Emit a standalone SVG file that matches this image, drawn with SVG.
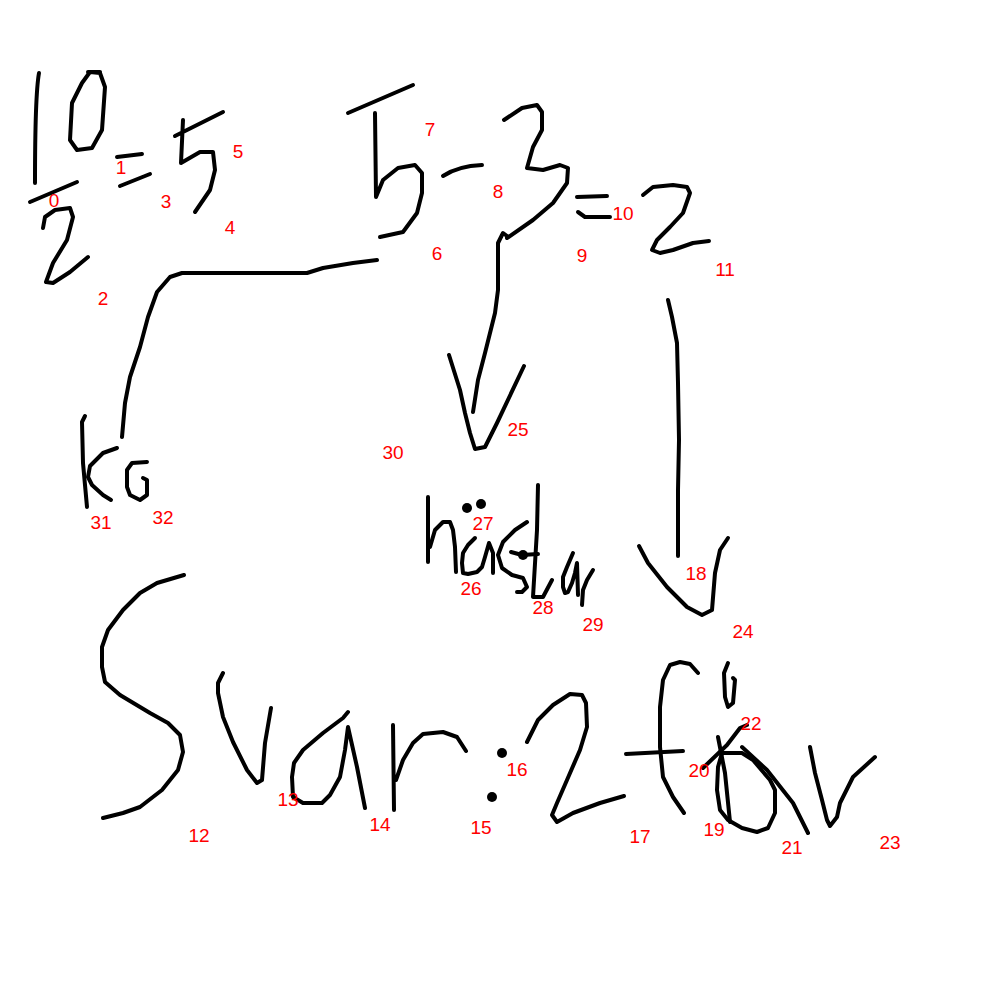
<svg xmlns="http://www.w3.org/2000/svg" width="1000" height="1000" viewBox="0 0 1000 1000">
<style>
.s{fill:none;stroke:#000;stroke-width:4;stroke-linecap:round;stroke-linejoin:round}
.d{fill:#000}
.l{fill:#ff0000;font-family:"Liberation Sans",Arial,sans-serif;font-size:19px;text-anchor:middle}
</style>
<rect width="1000" height="1000" fill="#fff"/>
<g id="fraction">
<path class="s" d="M39,73 Q35,95 35,183"/>
<path class="s" d="M90,72 L100,73 L105,87 L102,130 L92,148 L77,150 L70,140 L72,103 L82,83 Z"/>
<path class="s" d="M88,72 L100,72" stroke-width="6"/>
<path class="s" d="M30,202 L77,182"/>
<path class="s" d="M43,228 L45,217 L55,210 L70,208 L73,217 L67,240 L53,263 L46,282 L53,283 L70,272 L88,257"/>
<path class="s" d="M117,157 L142,154 M120,186 L150,174"/>
<path class="s" d="M175,136 L223,112 M183,120 L181,163 L200,152 L213,152 L215,170 L210,190 L195,212"/>
</g>
<g id="subtraction">
<path class="s" d="M348,113 L413,85 M375,113 L376,197 L383,180 L398,168 L415,165 L422,173 L422,193 L417,213 L403,232 L380,237"/>
<path class="s" d="M443,176 Q458,166 482,165"/>
<path class="s" d="M504,120 L522,108 L537,105 L542,112 L542,130 L533,147 L527,168 L543,170 L560,165 L568,168 L567,183 L553,203 L533,220 L507,238"/>
<path class="s" d="M577,197 L607,196 M578,212 L585,217 L610,217"/>
<path class="s" d="M643,195 L653,187 L673,185 L687,187 L690,193 L683,213 L670,227 L657,240 L652,250 L660,253 L673,250 L693,243 L709,241"/>
</g>
<g id="kg">
<path class="s" d="M85,416 L82,422 L83,463 L87,507"/>
<path class="s" d="M117,448 L103,453 L90,466 L88,477 L92,485 L103,495 L111,500"/>
<path class="s" d="M147,462 L132,463 L127,470 L127,487 L130,495 L140,500 L147,495 L147,480 L143,478"/>
</g>
<g id="hasta">
<path class="s" d="M428,497 L428,562"/>
<path class="s" d="M430,547 L435,530 L443,522 L450,522 L453,530 L455,547 L456,572"/>
<path class="s" d="M475,538 L468,545 L463,553 L462,563 L463,573 L468,574 L477,572 L482,567 L485,557 L487,550 L489,543 L493,553 L493,573"/>
<circle class="d" cx="467" cy="508" r="5"/>
<circle class="d" cx="481" cy="504" r="5"/>
<path class="s" d="M527,522 L515,530 L503,542 L498,555 L502,568 L512,575 L523,578 L527,587 L522,592 L517,592"/>
<path class="s" d="M538,485 L537,530 L533,597 L543,597 L552,580"/>
<path class="s" d="M511,552 L522,555 L538,554"/>
<circle class="d" cx="523" cy="555" r="5"/>
<path class="s" d="M573,553 L570,560 L567,567 L563,577 L563,587 L565,593 L568,592 L572,583 L575,573 L577,563 L578,595"/>
<path class="s" d="M593,570 L587,580 L583,590 L582,605"/>
</g>
<g id="svar">
<path class="s" d="M184,575 L157,583 L140,593 L123,610 L108,630 L102,647 L102,667 L105,682 L120,695 L150,713 L168,723 L180,735 L183,752 L178,770 L162,790 L140,807 L123,813 L103,818"/>
<path class="s" d="M223,673 L218,683 L218,693 L223,717 L233,742 L247,770 L257,783 L262,780 L265,743 L271,708"/>
<path class="s" d="M348,712 L343,718 L323,733 L303,750 L294,763 L292,777 L293,797 L303,803 L322,803 L330,795 L340,777 L345,750 L348,727 L357,767 L365,808"/>
<path class="s" d="M393,725 L394,810 M396,780 L403,760 L413,743 L423,734 L443,732 L457,737 L466,751"/>
<circle class="d" cx="502" cy="753" r="5"/>
<circle class="d" cx="492" cy="797" r="5"/>
<path class="s" d="M527,742 L538,720 L553,705 L570,694 L582,695 L586,703 L587,727 L580,750 L567,780 L557,803 L552,815 L557,822 L573,813 L600,803 L624,796"/>
<path class="s" d="M698,673 L690,664 L680,662 L670,665 L663,680 L660,707 L660,747 L663,777 L673,797 L684,813"/>
<path class="s" d="M626,754 L683,751"/>
<path class="s" d="M728,663 L724,673 L725,697 L728,707 L733,703 L735,680 L733,678"/>
<path class="s" d="M703,768 L727,745 L740,728 L747,725"/>
<path class="s" d="M718,737 L725,773 L730,822"/>
<path class="s" d="M722,753 L742,753 L753,760 L770,780 L775,790 L775,813 L768,828 L757,832 L742,828 L728,820 L720,810 L717,790 L718,767 L722,753"/>
<path class="s" d="M742,747 L767,770 L793,803 L808,833"/>
<path class="s" d="M810,747 L815,773 L822,800 L827,820 L830,826 L837,817 L840,803 L853,777 L875,757"/>
</g>
<g id="connectors">
<path class="s" d="M377,260 L353,263 L323,268 L307,273 L182,273 L170,277 L157,292 L148,317 L140,347 L130,377 L125,403 L122,437"/>
<path class="s" d="M507,236 L503,233 L498,243 L498,290 L495,313 L485,353 L478,380 L473,412"/>
<path class="s" d="M449,355 L460,390 L465,413 L470,433 L475,449 L485,447 L497,423 L524,366"/>
<path class="s" d="M668,300 L672,317 L677,343 L678,383 L679,440 L678,490 L678,556"/>
<path class="s" d="M639,546 L648,563 L667,587 L687,607 L702,615 L712,610 L715,573 L720,550 L728,538"/>
</g>
<g id="labels">
<text class="l" x="54" y="207">0</text>
<text class="l" x="121" y="174">1</text>
<text class="l" x="103" y="305">2</text>
<text class="l" x="166" y="208">3</text>
<text class="l" x="230" y="234">4</text>
<text class="l" x="238" y="158">5</text>
<text class="l" x="437" y="260">6</text>
<text class="l" x="430" y="136">7</text>
<text class="l" x="498" y="198">8</text>
<text class="l" x="582" y="262">9</text>
<text class="l" x="623" y="220">10</text>
<text class="l" x="725" y="276">11</text>
<text class="l" x="199" y="842">12</text>
<text class="l" x="288" y="806">13</text>
<text class="l" x="380" y="831">14</text>
<text class="l" x="481" y="834">15</text>
<text class="l" x="517" y="776">16</text>
<text class="l" x="640" y="843">17</text>
<text class="l" x="696" y="580">18</text>
<text class="l" x="714" y="836">19</text>
<text class="l" x="699" y="777">20</text>
<text class="l" x="792" y="854">21</text>
<text class="l" x="751" y="730">22</text>
<text class="l" x="890" y="849">23</text>
<text class="l" x="743" y="638">24</text>
<text class="l" x="518" y="436">25</text>
<text class="l" x="471" y="595">26</text>
<text class="l" x="483" y="530">27</text>
<text class="l" x="543" y="614">28</text>
<text class="l" x="593" y="631">29</text>
<text class="l" x="393" y="459">30</text>
<text class="l" x="101" y="529">31</text>
<text class="l" x="163" y="524">32</text>
</g>
</svg>
